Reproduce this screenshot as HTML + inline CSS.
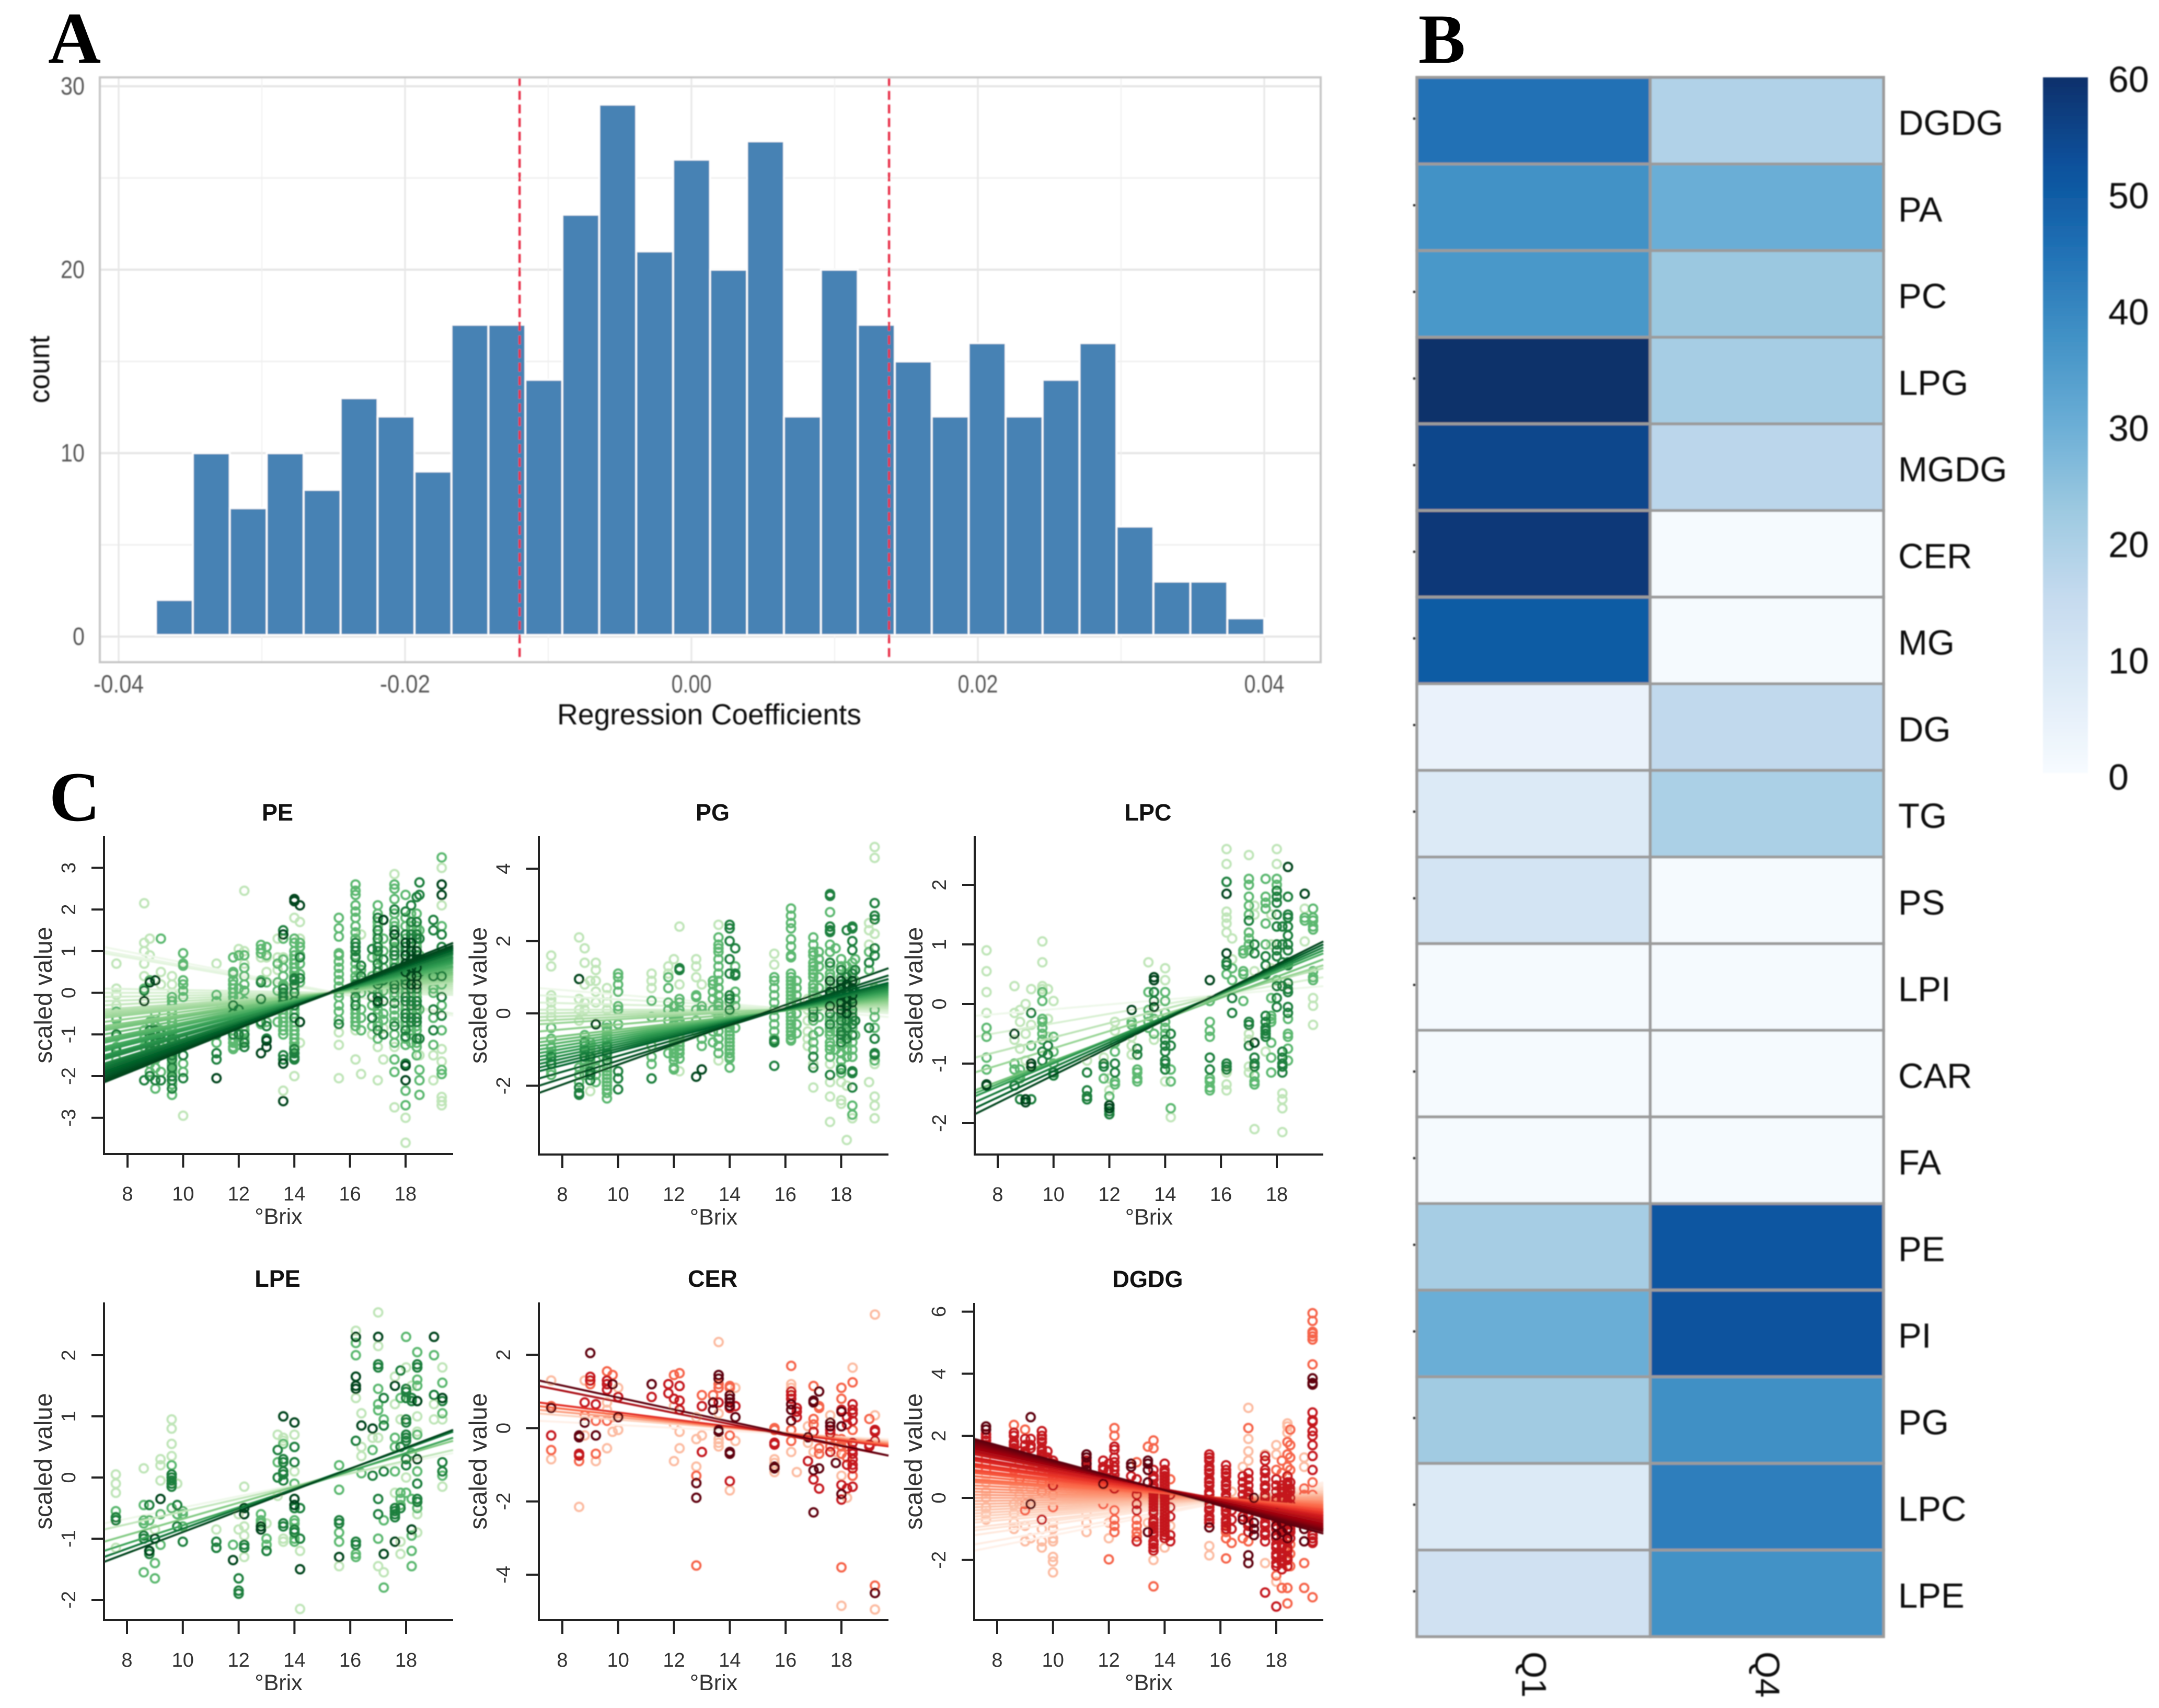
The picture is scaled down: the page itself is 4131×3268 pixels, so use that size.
<!DOCTYPE html>
<html lang="en">
<head>
<meta charset="utf-8">
<title>Regression coefficients, lipid heatmap and scaled value panels</title>
<style>
html,body{margin:0;padding:0;background:#fff;}
svg{display:block;}
text{font-family:"Liberation Sans",sans-serif;}
.letter{font-family:"Liberation Serif",serif;font-weight:700;fill:#000;}
</style>
</head>
<body>
<svg id="figure" xmlns="http://www.w3.org/2000/svg" width="4131" height="3268" viewBox="0 0 4131 3268">
<defs>
<filter id="soft" x="-5%" y="-5%" width="110%" height="110%"><feGaussianBlur stdDeviation="1.1"/></filter>
<linearGradient id="colorbar-gradient" x1="0" y1="0" x2="0" y2="1">
<stop offset="0" stop-color="#08306b"/><stop offset="0.125" stop-color="#08519c"/><stop offset="0.25" stop-color="#2171b5"/><stop offset="0.375" stop-color="#4292c6"/><stop offset="0.5" stop-color="#6baed6"/><stop offset="0.625" stop-color="#9ecae1"/><stop offset="0.75" stop-color="#c6dbef"/><stop offset="0.875" stop-color="#deebf7"/><stop offset="1" stop-color="#f7fbff"/>
</linearGradient>
</defs>
<rect x="0" y="0" width="4131" height="3268" fill="#fff"/>
<text class="letter" x="92" y="120" font-size="140">A</text>
<text class="letter" x="2714" y="120" font-size="135">B</text>
<text class="letter" x="94" y="1570" font-size="135">C</text>
<g id="hist" filter="url(#soft)"></g>
<g id="heat" filter="url(#soft)"></g>
<g id="scatter"></g>
</svg>
<script>
/* ---------- Panel A data ---------- */
const histCounts = [2,10,7,10,8,13,12,9,17,17,14,23,29,21,26,20,27,12,20,17,15,12,16,12,14,16,6,3,3,1];
const histBinStart = -0.0374;
const histBinWidth = 0.00258;
const histCutoffs = [-0.012, 0.0138];
const histXTicks = ["-0.04","-0.02","0.00","0.02","0.04"];
const histYTicks = ["0","10","20","30"];
const histXGrid = [-0.04,-0.03,-0.02,-0.01,0,0.01,0.02,0.03,0.04];
const histYGrid = [0,5,10,15,20,25,30];

/* ---------- Panel B data ---------- */
const lipids = ["DGDG","PA","PC","LPG","MGDG","CER","MG","DG","TG","PS","LPI","CAR","FA","PE","PI","PG","LPC","LPE"];
const quarterLabels = ["Q1","Q4"];
const q1Values = [45,37.5,36,60,55,58,50,4,8,11,0.5,0.5,0.5,21,30,22,8,12];
const q4Values = [19,30,23,21,17,0.5,0.5,16,20,0.5,0.5,0.5,0.5,51,52,38,42,37.5];
const colorbarTicks = ["60","50","40","30","20","10","0"];
const bluesRamp = ["#f7fbff","#deebf7","#c6dbef","#9ecae1","#6baed6","#4292c6","#2171b5","#08519c","#08306b"];

/* ---------- Panel C shared ---------- */
const brixTicks = [8,10,12,14,16,18];
const greenShades = ["#bfe5b8","#5cb870","#1a7f3c","#00441b"];
const redShades = ["#fcbba1","#f6634a","#c5161c","#5e000c"];
const greenRamp = ["#eef8ea","#d5efcf","#b4e0ad","#8ccf8a","#5fb96e","#35a055","#1b8240","#00602a","#00441b"];
const redRamp = ["#fff0e8","#fedcca","#fcbba1","#fc9272","#fb6a4a","#ef3b2c","#cb181d","#99000d","#5e000c"];

/* ---------- PE ---------- */
const peYTicks = [-3,-2,-1,0,1,2,3];
const peLight = [[7.6,.7,.1,-.05,-.3],[8.6,2.15,1.2,1,.7,.4],[8.8,1.3,.9],[9.2,.5,.2],[9.6,.4,.2,0],[10,-2.95],[11.2,.7],[12.2,2.45,1,.7],[12,1.05],[12.8,.85],[13,.5,.85],[13.4,1.3,.85,.55],[13.6,-2.35,.85],[14,-2,1.8],[14.2,1.7,1.3,-1.2],[15.6,-2.05,-.95,-1.25],[16.2,-1.6,-.9],[16.4,-1.95,1.4],[16.8,-1],[17,-2.1,-1.3],[17.2,-1.6,-.85],[17.6,2.85,-2.75,-1.3],[18,-3,-3.6,-1.25],[18.5,-1.5],[19,-2.1,-1.5],[19.3,3,2.1,-1.65,-2.5,-2.6,-2.7,-1.35]];
const peMid = [[7.6,-.45,-.6,-.65,-1.05,-1.3,-1.6],[8.6,.1,-.9,-1.1,-1.3,-1.5],[8.8,.3,-.7,-1.2],[9,.3,-.5,-1.1,-1.6,-2.3],[9.2,1.3,-.9,-1.3,-1.9],[9.6,-.1,-.3,-.5,-.7,-.9,-1.3,-1.7,-1.9,-2.2,-2.45],[10,.95,.7,.65,.3,.2,.05,-.1,-1.3,-1.7,-1.9],[11.2,-.05,-.2,-1.2],[11.8,.85,.5,.45,.3,.1,-.1,-1.1,-1.2,-1.3,-1.35],[12,.9,.1,-.1,-1.15,-1.25],[12.2,.9,.6,.4,.2,.05,-.2,-.5,-.8,-1.1],[12.8,1.15,1.05,.95,.3,-.3,-.75],[13,1.1,.9,.25,-.3,-.7],[13.4,.7,.25,.05,-.4,-.7],[13.6,1.3,.6,.4,.15,-.15,-.4,-.6,-.8,-1],[14,1.3,1.2,1,.9,.7,.5,.1,-.4,-.8,-1,-1.2,-1.45],[14.2,1.2,1.1,.9,.7,.45,.25],[15.6,1.8,1.55,1.35,.95,.9,.75,.6,.45,.3,.15,0,-.1,-.3,-.45,-.65],[16.2,2.6,2.45,2.35,2.1,1.95,1.8,1.6,1.45,.7,.55,.4,.05,-.5,-.7,-.8],[16.4,.55,.3,0,-.4,-.6,-.9],[16.8,.85,.4,.1,-.3,-.8],[17,2.1,1.9,1.7,1.6,1.4,1.2,.85,.5,.1,-.4,-.7,-1.1],[17.2,1.3,1,.6,.05,-.5,-.65],[17.6,2.6,2.5,2.25,1.9,1.7,1.25,.8,.4,0,-.55,-1,-1.6,-1.9],[18,2.35,1.6,1.2,.8,.4,0,-.4,-.8,-1.25,-2.35,-2.7],[18.2,1.9,1.5,1.1,.7,.3,-.1,-.5,-.9],[18.4,1.9,1.5,1.1,.7,.3,-.1,-.5,-.9,-1.3,-1.5],[18.5,1.5,.9,.3,-.4,-1.85,-2.1,-2.45],[19,.5,.1,0,-.6,-1.25],[19.3,3.25,1.6,.7,.2,-.3,-.9,-1.85,-1.95],[9.6,-1.15,-1.25,-1.45,-1.55,-1.75,-1.85,-.2,-.4,-.6,-.8,-1],[18.2,1.6,1.2,.8,.4,0,-.4,-.8,-1,-1.2],[18.4,1.6,1.2,.8,.4,0,-.4,-.8,-1.2],[8.8,-1,-1.1,-1.3,-1.5,-1.7,-1.9],[9,-.8,-1,-1.2,-1.4,-1.5,-1.8],[17,1.5,1.1,.9,.6,.2,0,-.2,-.5,-.8],[18,1.8,1.3,.9,.5,.1,-.3,-.7,-.9,-1.1],[17.6,1.6,1.1,.7,.3,-.1,-.4,-.7,-1.2],[14,.8,.6,.4,.2,0,-.1,-.3,-.5,-.7,-.9,-1.1,-1.3],[13.6,.8,.2,-.2,-.3,-.5,-.7,-.9],[12.2,-.3,-.6,-.9,-1.15],[11.8,.2,0,-.2,-.4,-.6,-.9],[16.2,1.3,.9,.3,.1,-.2,-.4,-.6]];
const peDark = [[7.6,-1,-1.4],[8.6,-.2,.05,-2.1],[8.8,-.9,-1.4,-2],[9,-.9,-1.3,-2.1],[9.2,-1,-2.1],[9.6,-1.1,-1.5,-2,-2.1,-2.3],[10,-1.1,-1.5,-2.05],[11.2,-1,-1.45,-1.6],[11.8,-.3,-.5,-.8,-1],[12,-.4,-.7,-1],[12.2,-1,-1.2,-1.3],[12.8,.25,-.15,-.7],[13,-.8,-1.1],[13.6,1.5,0,-1.5,-1.6],[14,.35,-.2,-.6,-1.35,-1.55,-1.6],[14.2,.85,.35],[15.6,-.75],[16.2,1.2,1.1,1,.85,.2,-.1,-.3],[16.4,.65,.4],[16.8,1.05,-.1,-.6],[17,1.8,1.3,1,.7,.3,-.1,-.25,-.9],[17.2,1.75,.8,.3,-.2,-1],[17.6,2,1.5,1.4,1,.6,.2,-.25,-.8],[18,1.95,1.4,1,.6,.2,-.2,-.6,-1.05,-1.7,-1.75],[18.2,2.1,1.7,1.3,.9,.5,.1,-.3,-.7],[18.4,2.3,1.7,1.3,.9,.5,.1,-.3,-.7,-1.1],[18.5,2.65,2.35,1.3,.7,.5,-1.1],[19,1.75,1.5,.4,-.4,-.9],[19.3,1.4,1.1,.4,-.1,-.55],[18,1.1,.7,.3,-.1,-.5,-.9],[18.2,1.4,1,.6,.2,-.2,-.6],[18.4,1.4,1,.6,.2,-.2,-.6],[17.6,1.2,.9,.5,.1],[17,1.5,1.1,.5,.2],[9.6,-1.2,-1.4,-1.6,-1.8],[8.8,-1,-1.2,-1.5],[9,-1,-1.2,-1.4],[14,.3,.2,0,-.3,-1.45],[13.6,.1,-.1,-.2,-.3]];
const peDeep = [[8.6,-.2],[8.8,.25],[9,.3],[11.2,-2.05],[12.8,-1.45],[13,-1.15,-1.3],[13.6,-2.6,-1.7,1.4],[14,2.25,2.2],[14.2,2.1,-.7],[17,-.2],[17.2,1.75],[17.6,1.4],[18,-1.75,-2.1,1.2,.9,.7,.5],[18.2,.8,.6,1.2,.4,.2,1],[18.4,.6,1,.2,.8,.4],[19.3,2.6,2.35]];
const peLineStart = [1.1,1,.95,.1,0,-.1,-.2,-.3,-.4,-.45,-.5,-.55,-.6,-.7,-.8,-.85,-.9,-1,-1.1,-1.15,-1.2,-1.3,-1.35,-1.4,-1.5,-1.55,-1.6,-1.7,-1.75,-1.8,-1.85,-1.9,-1.95,-2,-2.05,-2.1,-2.15];
const peLineEnd = [-.55,-.5,-.5,-.05,0,.05,.1,.15,.2,.25,.28,.3,.33,.38,.43,.46,.5,.55,.6,.62,.65,.7,.73,.76,.8,.84,.87,.92,.95,.97,1,1.03,1.05,1.08,1.1,1.14,1.2];

/* ---------- PG ---------- */
const pgYTicks = [-2,0,2,4];
const pgLight = [[7.6,1.6,1.3,.5,.4,.3,.1,-.1],[8.6,2.1,.4,.1,-.2],[8.8,1.8,1.4,.8,.3,.1],[9,.9,-2.15],[9.2,1.4,1.2,.9,.6,.3],[9.6,.7,.5,.3,.1],[11.2,1.1,.9,.7],[11.8,1.3,1.1],[12,1.5],[12.2,2.4,.8,-1.6],[12.8,1.5,1.3,1],[13,.8],[13.6,2.45,-1.3],[15.6,1.65,1.35],[16.8,.4,.1,-.2,-.5,-.7,-.9],[17,-1.4,-2.05],[17.6,-1.4,-1.9,-2.3,-3],[18,-1.9,-2.4,-2.5],[18.2,-3.5,-2],[18.4,-2.9],[19,2.5,2.3,1.9,-1.9],[19.2,4.6,4.3,2.2,-2.3,-2.55,-2.9,-1.4]];
const pgMid = [[7.6,-.4,-.7,-.95,-1.1,-1.3,-1.6,-1.7],[8.6,-1.5,-1.7,-1.9],[8.8,-.6,-.8,-1,-1.2,-1.4],[9,-.8,-1,-1.5],[9.2,-1,-1.3,-1.5,-1.7,-1.9],[9.6,-.3,-.5,-.7,-.9,-1,-1.1,-1.3,-1.5,-1.7,-1.9,-2.1,-2.2,-2.35],[10,1.1,1,.8,.6,.2,.1,-.3],[11.2,.35,-.1,-.5,-.9,-1.2,-1.4],[11.8,1,.7,.3,.1,-.2,-.5,-1.1],[12,.2,-.3,-.6,-.9,-1.1,-1.3,-1.5,-1.55],[12.2,.4,.3,.1,-.3,-.7,-.9,-1.1,-1.25],[12.8,.5,.45,.1,-.2,-.5],[13,.2,.1,-.4,-.7,-.9],[13.4,.9,.8,.6,.4,.1,-.5,-.8],[13.6,2.1,1.9,1.8,1.5,1.1,.9,.5,.3,.1,-.3,-.9,-1.1],[14,-.4,-.7,-.9,-1.1,-1.2,-1.25,-1.5],[14.2,1.3,.6,.4,.2,-.1,-.4],[15.6,1,.9,.7,.5,.3,.1,-.1,-.3,-.5,-.7],[16.2,2.9,2.7,2.5,2.35,2.05,1.85,1.6,1.55,1.1,1,.8,.6,.4,.2,-.1,-.3,-.5,-.7,-.75],[16.4,.9,.7,.5,.3,0,-.3,-.55],[17,2.1,1.9,1.7,1.6,1.4,1.2,1,.8,.6,.4,.2,0,-.2,-.8,-1],[17.2,1.7,1.5,1.3,1,.7,.4,.2,-.1,-.5],[17.6,2.8,1.9,1.7,1.1,.8,.3,-.5,-.8,-1],[17.8,1.8,.5,-.1,-.5,-1],[18,1.5,.9,.3,-.3,-.9,-1.5,-1.65],[18.2,1.3,.7,.1,-.5,-.8],[18.4,1.4,.8,.2,-.4,-1,-2.55,-2.8],[18.5,1.5,.9,.3,-.6],[19,1.7,1.2],[19.2,.7,.4,.1,-.1,-.4,-1.3],[8.8,-.9,-1.1,-1.3,-1.5,-1.7],[9,-.9,-1.1,-1.3,-1.4],[9.6,-.4,-.6,-.8,-1.2,-1.4,-1.6,-1.8,-2],[13.6,1.7,1.3,.7,.2,0,-.1,-.5,-.7],[14,.3,0,-.2,-.3,-.5,-.6,-.8,-1],[18,1.3,1,.7,.4,.1,-.1,-.4,-.7,-1.1,-1.3],[18.2,1.1,.5,.2,-.1,-.3,-.6,-1,-1.2],[18.4,1.2,.6,0,-.2,-.8,-1.2],[17,1.3,1.1,.7,.5,.1,-.1,-.6],[17.6,1.3,1,.7,.4,.2,-.1,-.2,-.4,-.6,-.9,-1.2],[12,0,-.1,-.5,-.7,-.8,-1,-1.2],[12.2,0,-.2,-.5,-.6,-.8,-1],[16.2,.9,.7,.5,.3,0,-.2,-.4,-.6]];
const pgDark = [[7.6,-1.2,-1.4],[8.6,-2.05,-2.2,-2.25],[9,-1.7,-1.85],[10,-1.6,-1.8,-2.1],[11.2,-1.8],[12.2,1.25,1.2],[14,2.45,2.35,2,1.5,1.1,.5,.4,.1],[14.2,1.8,1.1,1.05],[15.6,-.75,-.8,-1.45],[17,-1.2,-1.5],[17.6,3.25,3.3,2.4,2.3,2.25,1.4,.5,0,-.3,-1.7],[18,1.2,.6,0,-.6,-1.55],[18.2,2.3,1,.4,-.2],[18.4,2.4,2.35,2,1.75,1.1,.5,-.1,-.6,-1.6,-1.65,-2.05],[18.5,1.2,.6,-.2],[19,1.4,-.4],[19.2,3.05,2.7,2.6,1.8,1.6,-.7,-1.1,-1.15],[18,.8,.5,.2,-.2,-.5,-.8],[18.2,.6,.3,0,-.4,-.7],[18.4,.4,.1,-.3],[17,.3,.1,-.1],[9,-1.2,-1.6],[9.6,-1.1,-1.3,-.9],[8.8,-1,-1.2,-.8]];
const pgDeep = [[8.6,.95],[9.2,-.3],[12.8,-1.75],[13,-1.55],[17.6,.9,.6,.2],[18,.9,.7,.5,.3,.1],[18.2,.8,.6,.4,.2,0],[18.4,.9,.7,.5,.3]];
const pgLineStart = [.7,.5,.3,.1,0,-.1,-.2,-.3,-.5,-.7,-.8,-.9,-1,-1.1,-1.2,-1.3,-1.4,-1.5,-1.6,-1.8,-2,-2.2];
const pgLineEnd = [-.1,0,.05,.1,.15,.2,.25,.3,.35,.4,.45,.5,.55,.6,.65,.7,.75,.8,.85,.95,1.05,1.25];

/* ---------- LPC ---------- */
const lpcYTicks = [-2,-1,0,1,2];
const lpcLight = [[7.6,.9,.55,.2,-.15],[8.6,.3,-.15,-.6],[8.8,-.1,-.3,-.75],[9,0,-.5,-.95],[9.2,.25,-.35],[9.6,1.05,.7,.3,.25],[9.8,.25,-.25,-.55],[10,.05],[11.2,-.95],[11.8,-.9],[12,-1.25,-1.45],[12.2,-.3,-.45],[12.8,-.55,-.7,-.85],[13.4,.7],[13.6,-.6],[14,.6,.4,-1.3],[14.2,-1.9],[16.2,2.6,2.35,1.55,1.45,1.35,1.2,-1.15,-1.35,-1.45],[16.4,1.1,.75],[17,2.5,-.5,-.6,-1.05,-1.15],[17.2,1.65,1.5,.55,-2.1],[17.6,-.8],[17.8,1.5,1,.6],[18,2.6,2.35],[18.2,-1.5,-1.6,-1.75,-2.15],[19,1.6,1.05],[19.3,.1,-.03,-.35]];
const lpcMid = [[7.6,-.4,-.55,-.9,-1.1],[8.6,-1,-1.1],[8.8,-1.1,-1.2,-1.25],[9.2,-.7],[9.6,.2,.05,-.25,-.3,-.4,-.5,-.6],[10,-.55,-.8,-1],[11.8,-1.05,-1.25],[12,-1.55],[12.2,-.65,-.8,-1.3,-1.35],[12.8,-.3,-.35],[13,-1.1,-1.15,-1.25,-1.3],[13.4,.2,-.1,-.2,-.3,-.4],[13.6,-.5,-.25],[14,.2,.05,-.15,-.3,-.4,-.5],[14.2,-1.1,-1.3,-1.75],[15.6,.05,-.3,-.45,-.55,-1.25,-1.3,-1.4,-1.45],[16.2,.5],[16.4,.6,.4],[16.8,.9,.85,.55,.5,.05],[17,2.1,2,1.8,1.65,1.5,1.2,1.1,1,.9],[17.2,-1.2,-1.3,-1.35],[17.6,2.1,1.8,1.7,1.6,1.35,1],[17.8,.1,-.2,-.25,-.3,-.65,-.9,-1.15],[18,2.1,2,1.9,.4],[18.4,-.25,-.5,-.55,-.75,-.95],[19,1.45,1.4],[19.3,1.6,1.45,1.4,1.3,1.25,.55,.45,.4]];
const lpcDark = [[8.6,-1.37],[8.8,-1.6],[9.2,-.15,-1.6],[9.6,-.8,-.95],[9.8,-.7,-.85],[10,-1.15,-1.2],[11.2,-1.15,-1.45,-1.55,-1.6],[11.8,-1,-1.05],[12,-1.8,-1.85],[12.2,-1,-1.15],[13,-.75,-.85],[13.6,.05,.2],[14,-.6,-.7,-.8,-.95,-1,-1.1],[14.2,-.5,-.7],[15.6,-.9,-1.1],[16.2,2.05,.7,.65,-1,-1.05,-1.1],[16.4,.1,-.15],[17,1.4,-.3,-.35,-.7],[17.2,1,.85,-.9,-1,-1.05],[17.6,.8,.65,.5,-.2,-.3,-.4,-.45,-.5,-.55],[18,1.9,1.8,1.7,1.5,1.3,1,.9,.8,.3,.1,-.05],[18.2,1.3,1,.7,.3,-.8,-.9,-1,-1.05,-1.15],[18.4,1.8,1.5,1.45,1.3,1.15,1,.9,.7,.65,.35,.25,.2,-.05,-.15]];
const lpcDeep = [[7.6,-1.35,-1.37],[8.6,-.5],[9,-1.6,-1.65],[9.2,-1.05,-1],[12,-1.7,-1.75],[12.8,-.1],[13.6,.45,.4,-.05],[15.6,.4],[16.2,1.85,.85],[17.2,-.65],[18.4,2.3],[19,1.85]];
const lpcLineStart = [-.2,-.55,-.9,-1.15,-1.45,-1.5,-1.55,-1.65,-1.75,-1.85];
const lpcLineEnd = [.3,.45,.6,.65,.75,.85,.9,.95,1,1.05];

/* ---------- LPE ---------- */
const lpeYTicks = [-2,-1,0,1,2];
const lpeLight = [[7.6,.05,-.1,-.25,-1.15],[8.6,.15],[9,-.85],[9.2,.3,.2,-.05],[9.6,.95,.8,.55,.35],[9.8,-.1],[11.2,-.85],[12,-.6,-.85],[12.2,-.15,-.8,-.95,-1.3],[13,-.75],[13.4,.7,-.3],[13.6,.65,.6,-1.05,-1],[14,.7,.1],[14.2,-1.2,-2.15],[15.6,-1.45],[16.2,2.4,1.3],[16.4,1.05,.5,.35],[16.8,.65],[17,2.7,2.15,.65,-1.45],[17.2,-1.55],[17.6,1.2,1.65,-.25],[17.8,.95,-1.05,-1.25],[18,1.8,0],[18.2,1.5],[18.4,1,.75,-.6,-.9],[19,1.2,.95],[19.3,.95,-.15,1.8]];
const lpeMid = [[7.6,-.55],[8.6,-.45,-.7,-.75,-1.55],[8.8,-.7],[9,-1.4,-1.65],[9.2,-.6,-1.1],[9.6,.2,-.5],[9.8,-.6],[10,-.55,-.6,-.8],[11.8,-1.1],[12.8,-.6,-.7,-.75],[13,-1,-1.1],[13.4,.25],[13.6,.55],[14,-.1,-.7,-.75,-1,-1.05],[15.6,.2,-.2,-.9,-1.05],[16.2,2.2,2,-1.25,-1.3],[16.4,.07],[16.8,.45],[17,1.45,1.1,1.2,-1],[17.2,.95,-.7,-1.8],[17.6,.65,.5,.1],[17.8,1.3,-.25,-.35,-.45],[18,2.3,-.25],[18.2,.4,-.35,-.95,-1.2,-1.45],[18.4,2.05,1.6,1.5,.1,-.5,.7],[19,2],[19.3,1.55,1.05,.03]];
const lpeDark = [[7.6,-.65,-.7],[8.6,-.95,-1],[8.8,-.45,-1.2,-1.25],[9.6,.05,0,-.05,-.1,-.15],[9.8,-.45,-.8],[10,-1.05],[11.2,-1.05,-1.15,-1.15],[12,-1.65,-1.85,-1.9],[12.2,-1.1,-1.15],[13,-1.2,-1.2],[13.4,.45,0],[13.6,.3,.25,.1,.05,-.05,-.75,-.8],[14,.5,.25,-.5,-.85,-.9],[14.2,-.5,-1],[15.6,-.7,-.75],[16.2,.6,-1.05,-1.1],[16.8,.03],[17,1.85,1.8,-.35,-.6],[17.2,1.3,.85,.1],[17.6,-.5,-.55,-.6,-.65],[17.8,1.75,.5,-.5],[18,1.45,1.4,1.3,.95,.9,.7,.65,.6,.3,.2],[18.2,1.3,1.25],[18.4,1.85,1.8,-.1,-.35,-.4],[19,1.35],[19.3,1.25,.25,.1]];
const lpeDeep = [[8.8,-1.2],[9,-1],[9.2,-.35],[11.8,-1.35],[12.2,-.5,-.6],[12.8,-.8,-.85],[13.6,1],[14,.9,-.35,-.45],[14.2,-1.5],[15.6,-1.3],[16.2,2.3,1.65,1.5,1.45],[16.4,.85],[16.8,.8],[17,2.3],[17.2,-1.25],[17.6,1.5,-1.05],[18.2,-.85],[18.4,1.25,.3],[19,2.3],[19.3,1.3]];
const lpeLineStart = [-.75,-.85,-1.05,-1.2,-1.3,-1.38];
const lpeLineEnd = [.4,.45,.6,.65,.75,.78];

/* ---------- CER ---------- */
const cerYTicks = [-4,-2,0,2];
const cerLight = [[7.6,1.3,-.85],[8.6,-2.15],[8.8,1.3,-.2],[9.2,-.9],[9.6,.7,.5,-.55],[9.8,.3,-.1],[10,1.1,-.05],[12,.1,-.9,.6],[12.2,-.1,-.55],[12.8,.3,-.3,-1.05],[13,-.2],[13.6,.4,-.3,-.4,-.5,2.35],[14,-1.7],[14.2,1.1,-.35],[15.6,-.85,-.95,-1.2],[16.2,1.2,1.1,-.65],[16.4,-1.2],[16.8,.05,-.4],[17,-.65],[17.6,.35],[17.8,-.65],[18,-1.3,-4.85],[18.2,-1.9],[18.4,1.65],[19.2,.35,3.1,-4.95]];
const cerMid = [[7.6,.6,-.6],[8.6,-.9],[8.8,.35],[9,1.2],[9.2,.2,-.7],[9.6,1.55,.2],[9.8,1.45],[12,1.45],[12.2,1.5],[12.8,-1.3,-3.75],[13,.9],[13.4,.9],[13.6,1.2,1.1],[14,1.15,1.1,-.2],[15.6,0,-.05],[16.2,1.7,-.05,-.35],[17,1.15,.25,.1],[17.2,.6,.55,-.55,-.7],[17.6,-.3,-.5],[17.8,-.3],[18,1.1,.8,-.3,-.5,-.7,-3.8],[18.2,-.4,-.5,-.8],[18.4,1.25,-.05,-1.3],[19,.25],[19.2,-4.3]];
const cerDark = [[7.6,-.2],[8.6,-.7,-.75],[8.8,.7],[9,1.4,1.3],[9.2,.65],[9.6,1.3,1.2,1.05],[10,.85],[11.2,.85],[11.8,1.2,.95],[12,.8],[12.2,1.15,.75,.5],[13,.6,-.65],[13.6,.7],[14,.55,-1.45],[14.2,.6],[15.6,-.4,-.45],[16.2,1,.9,.8],[16.4,.55,.45,.3],[16.8,-.9],[17,-.1,-1.4],[17.2,-1.65],[17.6,-.05,-.15,-.65],[18,.5,-1.55,-1.95],[18.2,.3,.1,-1,-1.65],[18.4,.65,.5,.4,.2,-.4,-.6,-.7,-.85,-1,-1.1,-1.6],[19,-.45,-.5],[19.2,-.05,-.1,-.35]];
const cerDeep = [[7.6,.55],[8.6,-.2,-.25],[8.8,.15],[9,2.05],[9.2,-.2],[9.8,1.2],[10,.3,.3],[11.2,1.2],[12.8,-1.5,-1.9],[13.4,.7,.5],[13.6,1.45,1.35,-.05,-.1],[14,.9,.8,.7,.6,-.65,-.7],[14.2,.3],[15.6,-1.05,-1.1],[16.2,.65,.5,.2],[16.8,-.25],[17,.75,.7,-1.15,-2.3],[17.2,1,-1.1],[17.6,.15,.05],[17.8,-.95],[18,.45,.05,-1.8],[19.2,-4.5]];
const cerLineStart = [.2,.4,.5,.6,.7,1.15,1.3];
const cerLineEnd = [-.3,-.35,-.4,-.45,-.5,-.75,-.75];

/* ---------- DGDG ---------- */
const dgdgYTicks = [-2,0,2,4,6];
const dgdgLight = [[7.6,.7,.5,.2,0,-.3,-.5,-.7],[8.6,.5,.3,-.2,-.5,-.8,-1],[8.8,.4,.1,-.2],[9,.6,-.9,-1.4],[9.2,.3,-.1,-1.3],[9.6,-1,-1.4,-1.6],[10,-.8,-1,-1.3,-1.4,-1.9,-2.05,-2.4],[11.2,.3,-.5,-.8,-1.1],[12,-.8,-1.3],[12.8,.1,-.3],[13.4,-.8],[13.6,-2],[14,-1.6],[14.2,-.9],[15.6,-1.55,-1.85],[16.4,.2],[16.8,1],[17,2.9,1.9,1.5,1.2],[17.6,1.4,1.2,-2.1],[18,1.7,1.4,-2.7],[18.4,2.4,2.3,2.1],[19,1.3,1]];
const dgdgMid = [[7.6,1.5,1.3,1.1,.9],[8.6,2.35,1.3,.9],[8.8,1.1,.6],[9,2.2,1.3,-.2,-.4],[9.2,1.2,.9],[9.6,.9,.5,.2],[10,.1,-.3],[11.8,-.2],[12,-1.98],[12.2,2.25,2,-.4,-.7,-.9,-1.1],[13,1.15,-.7,-.9,-1.1,-1.25],[13.4,1.65],[13.6,1.85,1.6,-2.85],[14.2,.6],[16.2,-1.1,-1.3,-1.95],[16.4,-1.45],[16.8,-1.3],[17,2.25,-1.4],[18,.9,-2.5],[18.2,1.2,.8,-2.9],[18.4,1.8,1.4,1,-2.9,-3.4],[18.5,2.2,1.7,1.3,.9,-1.5,-1.8,-2.2],[19,.3,.1,-2.1,-2.9],[19.3,5.95,5.7,5.35,5.3,5.2,5.1,4.3,.5,.1,-3.2]];
const dgdgDark = [[7.6,2.05,1.95,1.85,1.7],[8.6,2.1,2,1.8,1.7,1.6],[8.8,1.5,1.3],[9,1.9,1.7],[9.2,1.9,1.7,1.6],[9.6,2.15,2,1.9,1.8,1.4,1.3,1.1,-.7],[9.8,1.5,1.3,1.2],[10,1,.8,.6,.4],[11.8,1.2,1,.9,.7],[12,1.1,.9],[12.2,1.65,1.55,1.3,1,.75,.3],[12.8,.7,.4],[13,.6,.3,.1,-.2,-.4,-1.4],[13.6,.9,.6,.4,.2,0,-.2,-.4,-.7,-.9,-1.1,-1.4,-1.5,-1.6,-1.7],[14,1.1,.9,.7,.5,.3,.1,-.1,-.3,-.5,-.7,-.9,-1.1,-1.3],[14.2,.1,-.3,-.6,-1.2,-1.4],[15.6,1.4,1.2,1,.8,.6,.4,.2,-.2,-.4,-.6,-.8],[16.2,1.05,.9,.7,.5,.3,.1,-.1,-.3,-.5,-.7,-.9],[16.4,-.4,-.7,-1],[16.8,.7,.5,.3,.1,-.1,-.3,-.6],[17,.8,.4,.2,0,-.3,-.6,-.9],[17.6,1.35,1.2,.9,.6,.3,0,-.3,-.6,-.9,-1.2,-1.4,-3.05],[18,.6,.2,-.1,-.4,-.7,-1,-1.3,-1.6,-1.9,-2.2,-3.5],[18.2,.4,.2,-.1,-.4,-.7,-1,-1.3,-1.6,-1.9,-2.1,-2.3],[18.4,.7,.4,.1,-.2,-.5,-.8,-1.1,-1.4,-1.7,-2,-2.2],[18.5,.5,.2,-.2,-.5,-.8,-1.1],[19,-.4],[19.3,2.75,2.5,2.45,2.15,2,1.7,1.35,.9,-1.2,-1.3,-1.4,-1.45],[7.6,1.6,1.5],[8.6,1.5,1.4],[9,1.5,1.4],[9.6,1.6,1.5,1.2],[10,1.2,1.1,.9,.7],[11.2,1.2,1],[12.2,1.15,.9,.6],[13.6,.7,.3,.1,-.1,-.3,-.5,-.8,-1,-1.2],[14,.8,.6,.4,.2,0,-.2,-.4,-.6,-.8,-1,-1.2],[17.6,.8,.4,.1,-.2,-.5,-.8,-1.1],[18,.4,0,-.3,-.6,-.9,-1.2,-1.5,-1.8,-2.1],[18.2,.3,0,-.3,-.5,-.9,-1.2,-1.5,-1.8,-2],[18.4,.5,.2,-.1,-.4,-.7,-1,-1.3,-1.6,-1.9],[18.5,.3,0,-.4,-.7,-1,-1.3],[17,.6,.1,-.2,-.5,-.8,-1.1],[16.2,.8,.4,0,-.4,-.8,-1],[15.6,1.3,.9,.5,.1,-.3,-.7]];
const dgdgDeep = [[7.6,2.3,2.2],[9.2,2.6,-.2],[11.2,1.4,1.3,1.1,.9],[11.8,.45],[12.8,1.1,1],[13.4,1.2,1.1,.9,.5,-1.1],[15.6,-.95],[16.8,-.7],[17,-1.85,-2.1],[17.2,0,-.4,-.8,-1,-1.2],[18,-.5,-.9,-1.2],[18.2,-.6,-.8,-1.1],[18.4,-.6,-1,-1.3],[19,-1.4,-1],[19.3,3.85,3.7,3.65]];
const dgdgLineStart = [-1.7,-1.5,-1.2,-1.05,-.95,-.8,-.7,-.6,-.5,-.4,-.3,-.2,-.1,0,.1,.2,.3,.4,.5,.55,.6,.7,.8,.85,.9,1,1.05,1.1,1.2,1.25,1.3,1.4,1.45,1.5,1.55,1.6,1.65,1.7,1.75,1.8,1.85,1.9];
const dgdgLineEnd = [.5,.45,.38,.33,.3,.25,.22,.2,.15,.12,.1,.06,.03,0,-.05,-.1,-.13,-.16,-.2,-.23,-.25,-.3,-.35,-.38,-.4,-.45,-.48,-.5,-.55,-.58,-.6,-.65,-.7,-.75,-.8,-.85,-.9,-.95,-1,-1.03,-1.08,-1.15];

/* ---------- helpers ---------- */
const NS = "http://www.w3.org/2000/svg";
function make(parent, tag, geometry, content) {
  const el = document.createElementNS(NS, tag);
  for (const key in geometry) el.setAttribute(key, geometry[key]);
  if (content !== undefined) el.textContent = content;
  parent.appendChild(el);
  return el;
}
function hexToRgb(h){return [parseInt(h.slice(1,3),16),parseInt(h.slice(3,5),16),parseInt(h.slice(5,7),16)];}
function rampColor(ramp, t){
  const p = Math.max(0,Math.min(1,t))*(ramp.length-1);
  const i = Math.min(Math.floor(p),ramp.length-2);
  const a = hexToRgb(ramp[i]), b = hexToRgb(ramp[i+1]), f = p-i;
  return "rgb("+a.map((v,k)=>Math.round(v+(b[k]-v)*f)).join(",")+")";
}

/* ---------- Panel A ---------- */
(function(){
  const g = document.getElementById("hist");
  const L = 191, R = 2527, T = 148, B = 1267;
  const xs = v => 1323 + v*27400;
  const ys = c => 1218 - c*35.1;
  histYGrid.forEach(function(c,i){
    const el = make(g,"line",{x1:L,x2:R,y1:ys(c),y2:ys(c),stroke:i%2===0?"#e6e6e6":"#f0f0f0","stroke-width":i%2===0?4:3});
    
    
  });
  histXGrid.forEach(function(v,i){
    const el = make(g,"line",{x1:xs(v),x2:xs(v),y1:T,y2:B,stroke:i%2===0?"#e6e6e6":"#f0f0f0","stroke-width":i%2===0?3:2});
    
    
  });
  histCounts.forEach(function(c,i){
    const x0 = xs(histBinStart + i*histBinWidth);
    const x1 = xs(histBinStart + (i+1)*histBinWidth);
    const el = make(g,"rect",{x:x0,y:ys(c),width:x1-x0,height:ys(0)-ys(c)-3,fill:"#4682b4",stroke:"#fff","stroke-width":3.5});
    
    
  });
  histCutoffs.forEach(function(v){
    const el = make(g,"line",{x1:xs(v),x2:xs(v),y1:T,y2:B,stroke:"#e8304c","stroke-width":4.5,"stroke-dasharray":"17 9"});
    
    
  });
  const frame = make(g,"rect",{x:L,y:T,width:R-L,height:B-T,fill:"none",stroke:"#c6c6c6","stroke-width":4});
  
  
  histXTicks.forEach(function(label){
    const el = make(g,"text",{x:xs(parseFloat(label)),y:1325,"text-anchor":"middle","font-size":48,fill:"#595959",textLength:label.length*19.2,lengthAdjust:"spacingAndGlyphs"},label);
    
    
  });
  histYTicks.forEach(function(label){
    const el = make(g,"text",{x:162,y:ys(parseFloat(label))+16,"text-anchor":"end","font-size":48,fill:"#595959",textLength:label.length*23,lengthAdjust:"spacingAndGlyphs"},label);
    
    
  });
  const xt = make(g,"text",{x:1357,y:1386,"text-anchor":"middle","font-size":56,fill:"#111",textLength:582,lengthAdjust:"spacingAndGlyphs"},"Regression Coefficients");
  
  
  const yt = make(g,"text",{transform:"translate(94,707) rotate(-90)","text-anchor":"middle","font-size":56,fill:"#111",textLength:129,lengthAdjust:"spacingAndGlyphs"},"count");
  
  
})();

/* ---------- Panel B ---------- */
(function(){
  const g = document.getElementById("heat");
  const L = 2711, W = 446.5, T = 148, H = 165.75;
  const color = v => rampColor(bluesRamp, v/60);
  lipids.forEach(function(name,r){
    [q1Values,q4Values].forEach(function(series,c){
      const el = make(g,"rect",{x:L+c*W,y:T+r*H,width:W,height:H,fill:color(series[r]),stroke:"#9b9b9b","stroke-width":5.5});
      
      
    });
    const lab = make(g,"text",{x:3632,y:T+r*H+110,"font-size":67,fill:"#111"},name);
    
    
    const dot = make(g,"circle",{cx:2706,cy:T+r*H+79,r:2.5,fill:"#333"});
    
    
  });
  quarterLabels.forEach(function(label,c){
    const cx = L + (c+.5)*W;
    const el = make(g,"text",{transform:"translate("+(cx-22)+",3160) rotate(90)","font-size":66,fill:"#111"},label);
    
    
  });
  const bar = make(g,"rect",{x:3909,y:148,width:86,height:1331,fill:"url(#colorbar-gradient)"});
  
  
  colorbarTicks.forEach(function(label,i){
    const el = make(g,"text",{x:4034,y:176+i*222.5,"font-size":70,fill:"#111"},label);
    
    
  });
})();

/* ---------- Panel C ---------- */
const panelSpecs = [
  {key:"pe",title:"PE",left:199,right:867,top:1600,bottom:2208,x8:244,xUnit:53.2,y0:1899.6,yUnit:79.7,yTicks:peYTicks,layers:[peLight,peMid,peDark,peDeep],lineStart:peLineStart,lineEnd:peLineEnd,shades:greenShades,ramp:greenRamp},
  {key:"pg",title:"PG",left:1031,right:1700,top:1600,bottom:2209,x8:1076,xUnit:53.35,y0:1939,yUnit:69.2,yTicks:pgYTicks,layers:[pgLight,pgMid,pgDark,pgDeep],lineStart:pgLineStart,lineEnd:pgLineEnd,shades:greenShades,ramp:greenRamp},
  {key:"lpc",title:"LPC",left:1865,right:2532,top:1600,bottom:2209,x8:1909,xUnit:53.4,y0:1921,yUnit:114,yTicks:lpcYTicks,layers:[lpcLight,lpcMid,lpcDark,lpcDeep],lineStart:lpcLineStart,lineEnd:lpcLineEnd,shades:greenShades,ramp:greenRamp},
  {key:"lpe",title:"LPE",left:199,right:867,top:2492,bottom:3100,x8:243,xUnit:53.4,y0:2827,yUnit:117,yTicks:lpeYTicks,layers:[lpeLight,lpeMid,lpeDark,lpeDeep],lineStart:lpeLineStart,lineEnd:lpeLineEnd,shades:greenShades,ramp:greenRamp},
  {key:"cer",title:"CER",left:1031,right:1700,top:2492,bottom:3100,x8:1076,xUnit:53.4,y0:2732.5,yUnit:70.1,yTicks:cerYTicks,layers:[cerLight,cerMid,cerDark,cerDeep],lineStart:cerLineStart,lineEnd:cerLineEnd,shades:redShades,ramp:redRamp},
  {key:"dgdg",title:"DGDG",left:1864,right:2532,top:2493,bottom:3100,x8:1908,xUnit:53.4,y0:2866,yUnit:59.4,yTicks:dgdgYTicks,layers:[dgdgLight,dgdgMid,dgdgDark,dgdgDeep],lineStart:dgdgLineStart,lineEnd:dgdgLineEnd,shades:redShades,ramp:redRamp}
];
panelSpecs.forEach(function(p){
  const root = document.getElementById("scatter");
  const g = make(root,"g",{});
  
  
  const marks = make(g,"g",{filter:"url(#soft)"});
  
  
  const xs = b => p.x8 + (b-8)*p.xUnit;
  const ys = v => p.y0 - v*p.yUnit;
  const brixLeft = 8 + (p.left-p.x8)/p.xUnit;
  const brixRight = 8 + (p.right-p.x8)/p.xUnit;
  const n = p.lineStart.length;
  p.layers.forEach(function(rows,s){
    rows.forEach(function(row){
      row.slice(1).forEach(function(v){
        const pt = make(marks,"circle",{cx:xs(row[0]),cy:ys(v),r:8,fill:"none",stroke:p.shades[s],"stroke-width":4});
        
        
      });
    });
    for(let i=Math.floor(n*s/4);i<Math.floor(n*(s+1)/4);i++){
      const ln = make(marks,"line",{x1:xs(brixLeft),y1:ys(p.lineStart[i]),x2:xs(brixRight),y2:ys(p.lineEnd[i]),stroke:rampColor(p.ramp,n>1?i/(n-1):1),"stroke-width":3.8});
      
      
    }
  });
  const yAxis = make(g,"line",{x1:p.left,x2:p.left,y1:p.top,y2:p.bottom,stroke:"#222","stroke-width":4});
  
  
  const xAxis = make(g,"line",{x1:p.left-2,x2:p.right,y1:p.bottom,y2:p.bottom,stroke:"#222","stroke-width":4});
  
  
  brixTicks.forEach(function(b){
    const t = make(g,"line",{x1:xs(b),x2:xs(b),y1:p.bottom,y2:p.bottom+26,stroke:"#222","stroke-width":4});
    
    
    const l = make(g,"text",{x:xs(b),y:p.bottom+89,"text-anchor":"middle","font-size":38,fill:"#333"},String(b));
    
    
  });
  p.yTicks.forEach(function(v){
    const t = make(g,"line",{x1:p.left-24,x2:p.left,y1:ys(v),y2:ys(v),stroke:"#222","stroke-width":4});
    
    
    const l = make(g,"text",{transform:"translate("+(p.left-55)+","+ys(v)+") rotate(-90)","text-anchor":"middle","font-size":38,fill:"#333"},String(v));
    
    
  });
  const cx = (p.left+p.right)/2;
  const title = make(g,"text",{x:cx-2,y:p.top-30,"text-anchor":"middle","font-size":45,"font-weight":700,fill:"#111"},p.title);
  
  
  const xt = make(g,"text",{x:cx,y:p.bottom+134,"text-anchor":"middle","font-size":43,fill:"#333"},"°Brix");
  
  
  const yt = make(g,"text",{transform:"translate("+(p.left-100)+","+((p.top+p.bottom)/2)+") rotate(-90)","text-anchor":"middle","font-size":47,fill:"#333"},"scaled value");
  
  
});
</script>
</body>
</html>
